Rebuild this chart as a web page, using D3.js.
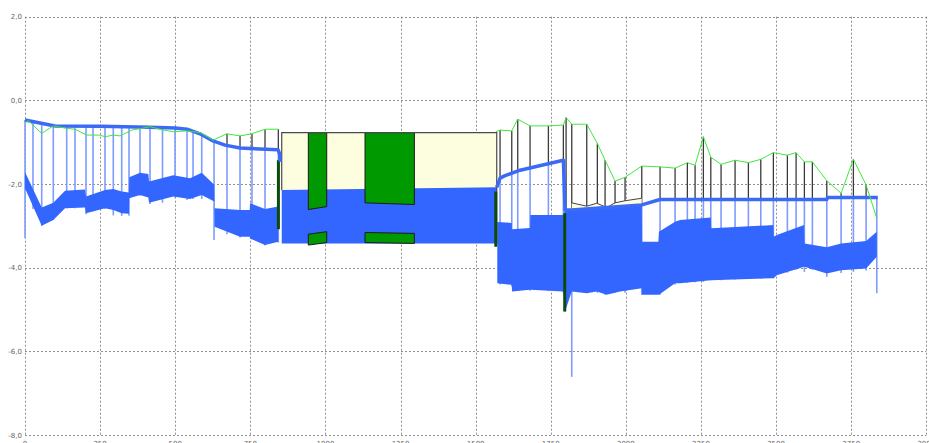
<!DOCTYPE html>
<html>
<head>
<meta charset="utf-8">
<script src="https://cdn.jsdelivr.net/npm/d3@7"></script>
<style>
  body { margin: 0; background: #fff; }
  svg { display: block; }
</style>
</head>
<body>
<svg id="chart" width="929" height="443"></svg>
<script>
// ---- Longitudinal profile: station (m) vs elevation (m) ----

// Axis ticks
const xTicks = [0, 250, 500, 750, 1000, 1250, 1500, 1750, 2000, 2250, 2500, 2750, 3000];
const yTicks = [2, 0, -2, -4, -6, -8];

// Ground surface (null = break over the storage tank)
const groundX = [0, 12, 55.6, 94.2, 138.8, 166.4, 205.4, 249.7, 266.3, 293.9, 316.2, 355.2, 388.5, 416.1, 460.4, 493.7, 538.3, 582.6, 626.8, 671.4, 715.7, 754.7, 798.9, 843.2,
  null,
  1567.0, 1581.2, 1620.2, 1640.1, 1681.1, 1742.1, 1792.0, 1801.0, 1819.9, 1869.8, 1905.1, 1930.8, 1964.0, 1997.3, 2052.9, 2113.8, 2163.8, 2204.7, 2230.4, 2258.0, 2282.7, 2316.9, 2363.5, 2407.8, 2449.1, 2491.0, 2537.6, 2566.6, 2594.2, 2620.8, 2668.8, 2716.4, 2757.3, 2799.6, 2835.2];
const groundY = [-0.53, -0.49, -0.79, -0.61, -0.67, -0.69, -0.83, -0.83, -0.87, -0.83, -0.85, -0.71, -0.67, -0.63, -0.71, -0.75, -0.73, -0.77, -0.95, -0.80, -0.85, -0.80, -0.69, -0.69,
  null,
  -0.75, -0.71, -0.73, -0.45, -0.61, -0.61, -0.59, -0.41, -0.57, -0.57, -1.03, -1.43, -1.93, -1.84, -1.57, -1.59, -1.62, -1.49, -1.55, -0.87, -1.36, -1.53, -1.43, -1.49, -1.41, -1.25, -1.31, -1.25, -1.47, -1.47, -1.92, -2.22, -1.41, -2.02, -2.82];

// Water level (hydraulic grade line)
const waterX = [0, 83.2, 99.9, 249.7, 416.1, 499.3, 539.3, 582.6, 625.9, 665.9, 715.7, 842.2, 847.5, 849.5,
  null,
  1570.2, 1581.2, 1597.9, 1647.8, 1792.0, 1797.6, 1819.9, 2052.9, 2113.8, 2668.8, 2671.0, 2838.5];
const waterY = [-0.47, -0.59, -0.61, -0.62, -0.64, -0.66, -0.69, -0.80, -0.97, -1.07, -1.14, -1.18, -1.28, -1.47,
  null,
  -2.08, -1.86, -1.80, -1.67, -1.43, -2.62, -2.62, -2.50, -2.37, -2.37, -2.32, -2.32];

// Conduits: station, crown/water top and invert (steps at manholes)
const pipeX = [0, 55.6, 94.2, 133.2, 199.7, 203.1, 266.3, 293.9, 321.9, 346.0, 347.0, 382.8, 410.5, 413.0, 493.7, 549.3, 588.2, 630.0, 631.0, 715.7, 748.0, 749.0, 798.9, 843.2,
  null,
  1572.0, 1620.2, 1621.0, 1681.1, 1682.0, 1792.0, 1797.6, 1819.9, 1869.8, 1903.1, 1936.4, 1980.7, 2052.9, 2054.0, 2108.2, 2110.0, 2163.8, 2180.4, 2282.7, 2284.0, 2491.0, 2492.0, 2502.4, 2593.2, 2594.5, 2668.8, 2716.4, 2799.6, 2835.2];
const pipeTop = [-1.71, -2.56, -2.45, -2.16, -2.13, -2.30, -2.14, -2.12, -2.18, -2.20, -1.84, -1.73, -1.76, -1.94, -1.79, -1.86, -1.73, -2.02, -2.58, -2.62, -2.62, -2.46, -2.60, -2.54,
  null,
  -2.91, -2.93, -3.08, -3.05, -2.74, -2.74, -2.62, -2.62, -2.60, -2.58, -2.57, -2.55, -2.50, -3.38, -3.38, -3.14, -2.90, -2.86, -2.80, -3.06, -2.98, -3.26, -3.22, -2.98, -3.42, -3.51, -3.42, -3.36, -3.14];
const pipeBot = [-2.10, -3.00, -2.86, -2.58, -2.56, -2.70, -2.58, -2.62, -2.70, -2.71, -2.34, -2.26, -2.32, -2.45, -2.30, -2.36, -2.26, -2.42, -3.02, -3.26, -3.26, -3.30, -3.46, -3.38,
  null,
  -4.37, -4.41, -4.57, -4.53, -4.53, -4.57, -5.05, -4.57, -4.61, -4.57, -4.65, -4.57, -4.49, -4.65, -4.65, -4.65, -4.37, -4.37, -4.30, -4.30, -4.25, -4.25, -4.18, -3.98, -3.98, -4.14, -4.06, -4.02, -3.74];

// Part-full conduit downstream of the drop: crown line
const crownX = [1819.9, 1869.8, 1903.1, 1936.4, 1964.0, 1997.3, 2052.9];
const crownY = [-2.45, -2.53, -2.46, -2.56, -2.45, -2.40, -2.34];

// Manholes: station, ground level, shaft bottom
const mhX = [0, 26.6, 55.6, 94.2, 138.8, 166.4, 203.1, 226.4, 266.3, 293.9, 321.9, 346.2, 382.8, 416.1, 457.7, 499.3, 539.3, 559.3, 588.2, 629.2, 672.4, 715.7, 755.6, 798.9, 843.2,
  1581.2, 1620.2, 1640.1, 1681.1, 1742.1, 1792.0, 1801.0, 1819.9, 1869.8, 1905.1, 1930.8, 1964.0, 1997.3, 2052.9, 2113.8, 2163.8, 2204.7, 2230.4, 2258.0, 2282.7, 2316.9, 2363.5, 2407.8, 2449.1, 2491.0, 2537.6, 2566.6, 2594.2, 2620.8, 2668.8, 2716.4, 2757.3, 2799.6, 2835.2];
const mhTop = [-0.53, -0.50, -0.79, -0.61, -0.67, -0.69, -0.82, -0.83, -0.87, -0.83, -0.85, -0.75, -0.68, -0.63, -0.71, -0.75, -0.73, -0.75, -0.79, -0.94, -0.80, -0.85, -0.80, -0.69, -0.69,
  -0.71, -0.73, -0.45, -0.61, -0.61, -0.59, -0.41, -0.57, -0.57, -1.03, -1.43, -1.93, -1.84, -1.57, -1.59, -1.62, -1.49, -1.55, -0.87, -1.36, -1.53, -1.43, -1.49, -1.41, -1.25, -1.31, -1.25, -1.47, -1.47, -1.92, -2.22, -1.41, -2.02, -2.82];
const mhBot = [-3.29, -2.60, -3.00, -2.86, -2.58, -2.58, -2.72, -2.65, -2.60, -2.75, -2.76, -2.76, -2.28, -2.48, -2.45, -2.32, -2.38, -2.36, -2.36, -3.34, -3.20, -3.28, -3.32, -3.47, -3.40,
  -4.40, -4.45, -4.45, -4.55, -4.56, -4.60, -4.60, -6.61, -4.60, -4.60, -4.65, -4.60, -4.60, -4.65, -4.65, -4.40, -4.36, -4.35, -4.34, -4.30, -4.30, -4.28, -4.27, -4.26, -4.25, -4.12, -4.05, -4.10, -4.05, -4.22, -4.13, -4.10, -4.07, -4.61];

// Storage tank
const tankX = [854.5, 1570.2];
const tankTop = -0.77;
const tankBottom = -3.42;
const tankWater = [-2.14, -2.08];

// Internal walls of the tank (upper and lower parts)
const wallX0 = [943.1, 1131.8];
const wallX1 = [1004.3, 1296.0];
const wallUpBase0 = [-2.61, -2.45];
const wallUpBase1 = [-2.54, -2.49];
const wallLoTop0 = [-3.20, -3.16];
const wallLoTop1 = [-3.14, -3.18];
const wallLoBase0 = [-3.46, -3.40];
const wallLoBase1 = [-3.40, -3.42];

// Drop shafts
const shaftX = [843.5, 1567.0, 1796.5];
const shaftTop = [-1.43, -2.18, -2.70];
const shaftBot = [-3.08, -3.50, -5.05];

// ---- Scales ----
const x = d3.scaleLinear().domain([0, 3000]).range([25, 926.3]);
const y = d3.scaleLinear().domain([-8, 2]).range([435, 16.7]);

const svg = d3.select("#chart");
const loc = d3.formatLocale({ decimal: ",", thousands: ".", grouping: [3], currency: ["", ""], minus: "-" });
const fy = loc.format(".1f");
const fx = loc.format("d");

// Linear interpolation along a broken polyline
function interpAt(xs, ys, sx) {
  for (let i = 0; i < xs.length - 1; i++) {
    if (xs[i] == null || xs[i + 1] == null) continue;
    if (sx >= xs[i] && sx <= xs[i + 1]) {
      const t = xs[i + 1] === xs[i] ? 1 : (sx - xs[i]) / (xs[i + 1] - xs[i]);
      return ys[i] + t * (ys[i + 1] - ys[i]);
    }
  }
  return null;
}

// ---- Grid ----
const grid = svg.append("g").attr("stroke", "#8f8f8f").attr("stroke-width", 1).attr("stroke-dasharray", "2,2").attr("fill", "none");
xTicks.forEach(t => {
  grid.append("line").attr("x1", Math.round(x(t)) + 0.5).attr("x2", Math.round(x(t)) + 0.5)
    .attr("y1", y(2)).attr("y2", y(-8));
});
yTicks.forEach(t => {
  grid.append("line").attr("y1", Math.round(y(t)) + 0.5).attr("y2", Math.round(y(t)) + 0.5)
    .attr("x1", x(0)).attr("x2", x(3000));
});

// ---- Tick labels ----
const lab = svg.append("g").attr("font-family", "DejaVu Sans, sans-serif").attr("font-size", 7).attr("fill", "#666");
yTicks.forEach(t => {
  lab.append("text").attr("x", 22).attr("y", y(t) + 2.6).attr("text-anchor", "end").text(fy(t));
});
xTicks.forEach(t => {
  lab.append("text").attr("x", x(t)).attr("y", 445.5).attr("text-anchor", "middle").text(fx(t));
});

// ---- Manhole shafts: dry part dark, submerged part blue ----
const mh = svg.append("g");
mhX.forEach((s, i) => {
  const w = interpAt(waterX, waterY, s);
  const wl = w == null ? mhTop[i] : w;
  if (mhTop[i] > wl) {
    mh.append("line").attr("x1", x(s)).attr("x2", x(s)).attr("y1", y(mhTop[i])).attr("y2", y(wl))
      .attr("stroke", "#3a3a3a").attr("stroke-width", 1.3);
  }
  mh.append("line").attr("x1", x(s)).attr("x2", x(s)).attr("y1", y(wl)).attr("y2", y(mhBot[i]))
    .attr("stroke", "#7e9bff").attr("stroke-width", 1.6);
});

// ---- Storage tank ----
svg.append("rect").attr("x", x(tankX[0])).attr("y", y(tankTop))
  .attr("width", x(tankX[1]) - x(tankX[0])).attr("height", y(tankBottom) - y(tankTop))
  .attr("fill", "#fdfde0");
svg.append("path")
  .attr("d", d3.line()([[x(tankX[0]), y(tankWater[0])], [x(tankX[1]), y(tankWater[1])], [x(tankX[1]), y(tankBottom)], [x(tankX[0]), y(tankBottom)]]) + "Z")
  .attr("fill", "#3366ff");

// ---- Conduits ----
const pipeData = pipeX.map((s, i) => ({ s, t: pipeTop[i], b: pipeBot[i] }));
svg.append("path").datum(pipeData)
  .attr("d", d3.area().defined(d => d.s != null).x(d => x(d.s)).y0(d => y(d.b)).y1(d => y(d.t)))
  .attr("fill", "#3366ff");

// Part-full conduit: empty space between crown and water surface
const partData = crownX.map((s, i) => ({ s, c: crownY[i], w: interpAt(waterX, waterY, s) }));
svg.append("path").datum(partData)
  .attr("d", d3.area().x(d => x(d.s)).y0(d => y(d.w)).y1(d => y(d.c)))
  .attr("fill", "#fdfde0");
svg.append("path").datum(partData)
  .attr("d", d3.line().x(d => x(d.s)).y(d => y(d.c)))
  .attr("fill", "none").attr("stroke", "#444").attr("stroke-width", 1);

// ---- Tank walls ----
const walls = svg.append("g").attr("fill", "#009900").attr("stroke", "#1b1b1b").attr("stroke-width", 1);
wallX0.forEach((a, i) => {
  const b = wallX1[i];
  walls.append("path").attr("d", d3.line()([[x(a), y(tankTop)], [x(b), y(tankTop)], [x(b), y(wallUpBase1[i])], [x(a), y(wallUpBase0[i])]]) + "Z");
  walls.append("path").attr("d", d3.line()([[x(a), y(wallLoTop0[i])], [x(b), y(wallLoTop1[i])], [x(b), y(wallLoBase1[i])], [x(a), y(wallLoBase0[i])]]) + "Z");
});

// Tank outline
svg.append("path")
  .attr("d", d3.line()([[x(tankX[0]), y(tankWater[0])], [x(tankX[0]), y(tankTop)], [x(tankX[1]), y(tankTop)], [x(tankX[1]), y(tankBottom)]]))
  .attr("fill", "none").attr("stroke", "#4a4a4a").attr("stroke-width", 1.2);

// ---- Drop shafts ----
shaftX.forEach((s, i) => {
  svg.append("line").attr("x1", x(s)).attr("x2", x(s)).attr("y1", y(shaftTop[i])).attr("y2", y(shaftBot[i]))
    .attr("stroke", "#0a4a0a").attr("stroke-width", 3);
});

// ---- Water level ----
const waterData = waterX.map((s, i) => ({ s, v: waterY[i] }));
svg.append("path").datum(waterData)
  .attr("d", d3.line().defined(d => d.s != null).x(d => x(d.s)).y(d => y(d.v)))
  .attr("fill", "none").attr("stroke", "#3b6af6").attr("stroke-width", 3.5).attr("stroke-linejoin", "round");

// ---- Ground ----
const groundData = groundX.map((s, i) => ({ s, v: groundY[i] }));
svg.append("path").datum(groundData)
  .attr("d", d3.line().defined(d => d.s != null).x(d => x(d.s)).y(d => y(d.v)))
  .attr("fill", "none").attr("stroke", "#3ee83e").attr("stroke-width", 1);
</script>
</body>
</html>
